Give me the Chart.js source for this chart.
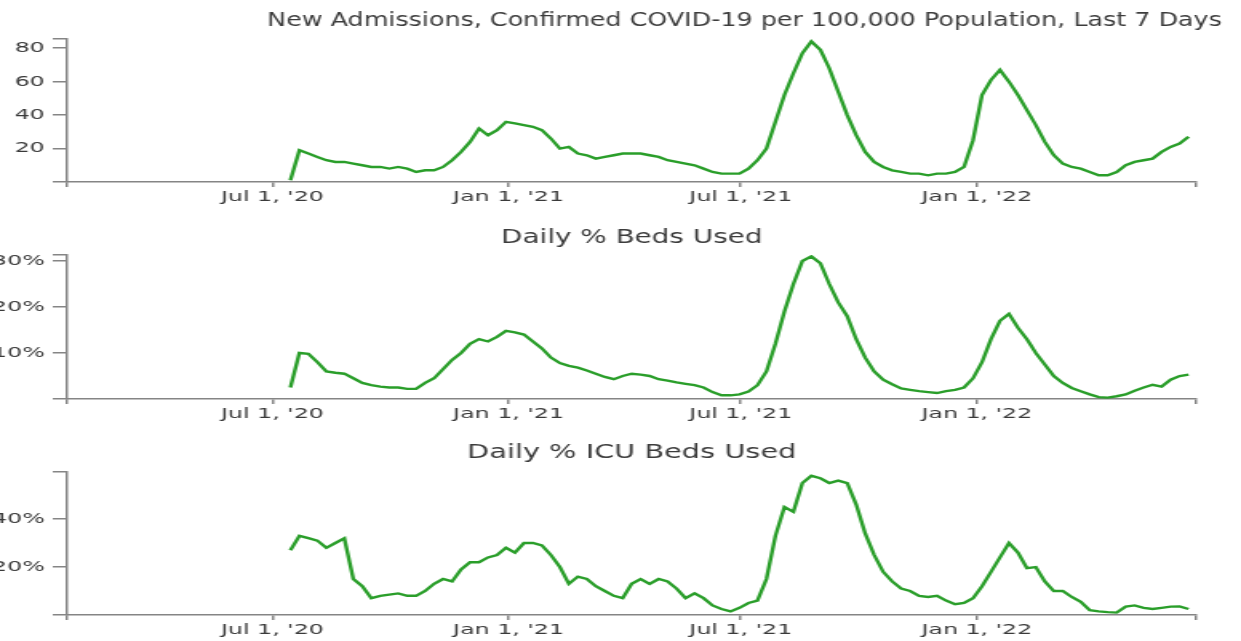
<!DOCTYPE html>
<html>
<head>
<meta charset="utf-8">
<script src="https://cdn.jsdelivr.net/npm/chart.js@4.4.1/dist/chart.umd.min.js"></script>
<style>
  html, body { margin: 0; padding: 0; background: #fff; overflow: hidden; }
  canvas { position: absolute; left: 0; }
</style>
</head>
<body>
<canvas id="admissoes" width="776" height="205" style="top:0px;width:1241px;height:205px"></canvas>
<canvas id="leitos" width="776" height="217" style="top:205px;width:1241px;height:217px"></canvas>
<canvas id="uti" width="776" height="219" style="top:422px;width:1241px;height:219px"></canvas>
<script>
// weekly readings, first point 2020-07-15, one value every 7 days
var primeiraData = '2020-07-15'

var admissoes = [1, 19, 17, 15, 13, 12, 12, 11, 10, 9, 9, 8, 9, 8, 6, 7, 7, 9, 13, 18,
  24, 32, 28, 31, 36, 35, 34, 33, 31, 26, 20, 21, 17, 16, 14, 15, 16, 17, 17, 17,
  16, 15, 13, 12, 11, 10, 8, 6, 5, 5, 5, 8, 13, 20, 36, 52, 65, 77, 84, 79,
  68, 54, 40, 28, 18, 12, 9, 7, 6, 5, 5, 4, 5, 5, 6, 9, 25, 52, 61, 67,
  60, 52, 43, 34, 24, 16, 11, 9, 8, 6, 4, 4, 6, 10, 12, 13, 14, 18, 21, 23, 27]

var leitosPct = [2.5, 10, 9.8, 8, 6, 5.7, 5.5, 4.5, 3.5, 3, 2.7, 2.5, 2.5, 2.2, 2.2, 3.5, 4.5, 6.5, 8.5, 10,
  12, 13, 12.5, 13.5, 14.8, 14.5, 14, 12.5, 11, 9, 7.8, 7.2, 6.8, 6.2, 5.5, 4.8, 4.3, 5, 5.5, 5.3,
  5, 4.3, 4, 3.6, 3.3, 3, 2.5, 1.5, 0.8, 0.8, 1, 1.6, 3, 6, 12, 19, 25, 30, 31, 29.5,
  25, 21, 18, 13, 9, 6, 4.2, 3.2, 2.3, 2, 1.7, 1.5, 1.3, 1.7, 2, 2.5, 4.5, 8, 13, 17,
  18.5, 15.5, 13, 10, 7.5, 5, 3.5, 2.4, 1.7, 1, 0.4, 0.3, 0.6, 1, 1.8, 2.5, 3.1, 2.7, 4.2, 5, 5.3]

var utiPct = [27, 33, 32, 31, 28, 30, 32, 15, 12, 7, 8, 8.5, 9, 8, 8, 10, 13, 15, 14, 19,
  22, 22, 24, 25, 28, 26, 30, 30, 29, 25, 20, 13, 16, 15, 12, 10, 8, 7, 13, 15,
  13, 15, 14, 11, 7, 9, 7, 4, 2.5, 1.5, 3, 5, 6, 15, 33, 45, 43, 55, 58, 57,
  55, 56, 55, 46, 34, 25, 18, 14, 11, 10, 8, 7.5, 8, 6, 4.5, 5, 7, 12, 18, 24,
  30, 26, 19.5, 20, 14, 10, 10, 7.5, 5.5, 2, 1.5, 1.2, 1, 3.5, 4, 3, 2.5, 3, 3.5, 3.6, 2.5]

var datasTicks = ['2020-07-01', '2021-01-01', '2021-07-01', '2022-01-01']
var labelsTicksX = ["Jul 1, '20", "Jan 1, '21", "Jul 1, '21", "Jan 1, '22"]

var ticksAdmissoes = [20, 40, 60, 80]
var ticksLeitos = [10, 20, 30]
var ticksUti = [20, 40]

var titulos = [
  'New Admissions, Confirmed COVID-19 per 100,000 Population, Last 7 Days',
  'Daily % Beds Used',
  'Daily % ICU Beds Used'
]

// days counted from Jul 1, 2020
function dias(iso) {
  return (Date.parse(iso) - Date.parse('2020-07-01')) / 86400000
}
var xMin = dias('2020-01-23')
var xMax = dias('2022-06-21')
var diaInicial = dias(primeiraData)
var xTicks = datasTicks.map(dias)

function pontos(valores) {
  var lista = []
  for (var i = 0; i < valores.length; i++) {
    lista.push({ x: diaInicial + 7 * i, y: valores[i] })
  }
  return lista
}

var verde = '#2a9e2a'
var cinzaEixo = '#858585'
var corTexto = '#3a3a3a'
var fonteTick = { family: 'DejaVu Sans', size: 14.8 }

const tituloPlugin = {
  id: 'tituloPainel',
  afterDraw(chart, args, opts) {
    var ctx = chart.ctx
    var area = chart.chartArea
    ctx.save()
    ctx.font = opts.size + 'px "DejaVu Sans"'
    ctx.fillStyle = '#3c3c3c'
    ctx.textBaseline = 'alphabetic'
    var x
    if (opts.align == 'right') {
      ctx.textAlign = 'right'
      x = opts.x
    } else {
      ctx.textAlign = 'center'
      x = (area.left + area.right) / 2
    }
    ctx.translate(x, opts.y)
    ctx.scale(opts.scaleX, 1)
    ctx.fillText(opts.text, 0, 0)
    ctx.restore()
  }
}

function criarPainel(canvasId, valores, yMax, yTicks, sufixo, titulo, topo, alturaX) {
  return new Chart(document.getElementById(canvasId), {
    type: 'line',
    data: {
      datasets: [{
        data: pontos(valores),
        borderColor: verde,
        borderWidth: 2.4,
        pointRadius: 0,
        tension: 0,
        fill: false
      }]
    },
    plugins: [tituloPlugin],
    options: {
      responsive: false,
      animation: false,
      layout: { padding: { top: topo, right: 28, left: 0, bottom: 0 } },
      plugins: {
        legend: { display: false },
        tooltip: { enabled: false },
        tituloPainel: titulo
      },
      scales: {
        x: {
          type: 'linear',
          min: xMin,
          max: xMax,
          afterFit: function (s) { s.height = alturaX },
          afterBuildTicks: function (s) {
            var lista = [xMin].concat(xTicks).concat([xMax])
            s.ticks = lista.map(function (v) { return { value: v } })
          },
          ticks: {
            autoSkip: false,
            maxRotation: 0,
            padding: 1,
            color: corTexto,
            font: fonteTick,
            callback: function (v) {
              var i = xTicks.indexOf(v)
              return i >= 0 ? labelsTicksX[i] : ''
            }
          },
          grid: { drawOnChartArea: false, drawTicks: true, tickLength: 5, color: cinzaEixo, lineWidth: 1.5 },
          border: { display: true, color: cinzaEixo, width: 1.5 }
        },
        y: {
          min: 0,
          max: yMax,
          afterFit: function (s) { s.width = 42 },
          afterBuildTicks: function (s) {
            var lista = [0].concat(yTicks).concat([yMax])
            s.ticks = lista.map(function (v) { return { value: v } })
          },
          ticks: {
            padding: 5,
            color: corTexto,
            font: fonteTick,
            callback: function (v) {
              return yTicks.indexOf(v) >= 0 ? v + sufixo : ''
            }
          },
          grid: { drawOnChartArea: false, drawTicks: true, tickLength: 9, color: cinzaEixo, lineWidth: 1.5 },
          border: { display: true, color: cinzaEixo, width: 1.5 }
        }
      }
    }
  })
}

var chartAdmissoes = criarPainel('admissoes', admissoes, 85.5, ticksAdmissoes, '',
  { text: titulos[0], size: 19, scaleX: 0.835, align: 'right', x: 764, y: 26 }, 39, 23)
var chartLeitos = criarPainel('leitos', leitosPct, 31.3, ticksLeitos, '%',
  { text: titulos[1], size: 20, scaleX: 0.87, align: 'center', y: 38 }, 50, 23)
var chartUti = criarPainel('uti', utiPct, 59.6, ticksUti, '%',
  { text: titulos[2], size: 20, scaleX: 0.9, align: 'center', y: 36 }, 50, 26)
</script>
</body>
</html>
